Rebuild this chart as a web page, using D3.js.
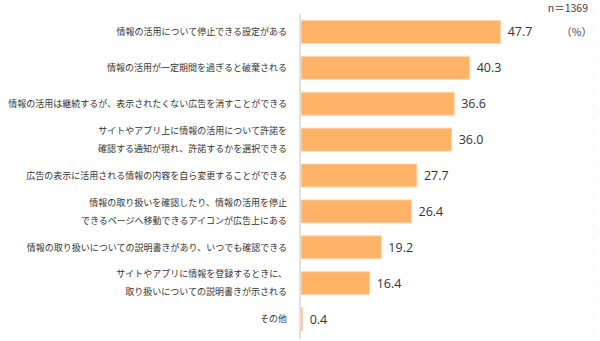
<!DOCTYPE html>
<html><head><meta charset="utf-8">
<script src="https://cdn.jsdelivr.net/npm/d3@7"></script>
<style>body{margin:0;background:#fff}svg{display:block}</style>
</head><body><svg id="c" width="600" height="341"></svg>
<script>
const categories = [
  ["情報の活用について停止できる設定がある"],
  ["情報の活用が一定期間を過ぎると破棄される"],
  ["情報の活用は継続するが、表示されたくない広告を消すことができる"],
  ["サイトやアプリ上に情報の活用について許諾を","確認する通知が現れ、許諾するかを選択できる"],
  ["広告の表示に活用される情報の内容を自ら変更することができる"],
  ["情報の取り扱いを確認したり、情報の活用を停止","できるページへ移動できるアイコンが広告上にある"],
  ["情報の取り扱いについての説明書きがあり、いつでも確認できる"],
  ["サイトやアプリに情報を登録するときに、","取り扱いについての説明書きが示される"],
  ["その他"]
];
const values = [47.7, 40.3, 36.6, 36.0, 27.7, 26.4, 19.2, 16.4, 0.4];
const sampleNote = "n＝1369";
const unitNote = "（%）";

const svg = d3.select("#c");
const x = d3.scaleLinear().domain([0, 70]).range([300, 593]);
const y = d3.scaleBand().domain(d3.range(values.length)).range([14, 337]).paddingInner(0.36).paddingOuter(0.18);

// right faint dotted border
svg.append("line").attr("x1", 593).attr("x2", 593).attr("y1", 14).attr("y2", 337)
  .attr("stroke", "#e3e3e3").attr("stroke-dasharray", "1,14");

svg.selectAll("rect.bar").data(values).join("rect")
  .attr("class", "bar")
  .attr("x", x(0) + 1)
  .attr("y", (d, i) => y(i))
  .attr("width", d => Math.max(0, x(d) - x(0)))
  .attr("height", y.bandwidth())
  .attr("fill", "#ffb366")
  .attr("stroke", "#ffd6ad").attr("stroke-width", 1);

// axis line
svg.append("line").attr("x1", x(0)).attr("x2", x(0)).attr("y1", 14).attr("y2", 339)
  .attr("stroke", "#d9d9d9").attr("stroke-width", 1.5);

// value labels
svg.selectAll("text.val").data(values).join("text")
  .attr("class", "val")
  .attr("x", d => x(d) + 8)
  .attr("y", (d, i) => y(i) + y.bandwidth() / 2)
  .attr("dy", "0.36em")
  .attr("font-family", "'Open Sans', 'Noto Sans', sans-serif")
  .attr("font-size", 12.5).attr("fill", "#333")
  .text(d => d.toFixed(1));

// category labels
const lab = svg.selectAll("text.cat").data(categories).join("text")
  .attr("class", "cat")
  .attr("text-anchor", "end")
  .attr("font-family", "'Noto Sans CJK JP', sans-serif")
  .attr("font-size", 9).attr("fill", "#333");
lab.each(function(lines, i) {
  const t = d3.select(this);
  const cy = y(i) + y.bandwidth() / 2;
  const n = lines.length;
  lines.forEach((s, k) => {
    t.append("tspan").attr("x", 287)
      .attr("y", cy + (k - (n - 1) / 2) * 18)
      .attr("dy", "0.36em").text(s);
  });
});

svg.append("text").attr("x", 588).attr("y", 8).attr("dy", "0.36em")
  .attr("text-anchor", "end").attr("font-family", "'Noto Sans CJK JP', sans-serif")
  .attr("font-size", 10.5).attr("fill", "#404040").text(sampleNote);
svg.append("text").attr("x", 592).attr("y", 32).attr("dy", "0.36em")
  .attr("text-anchor", "end").attr("font-family", "'Noto Sans CJK JP', sans-serif")
  .attr("font-size", 10.5).attr("fill", "#404040").text(unitNote);
</script></body></html>
